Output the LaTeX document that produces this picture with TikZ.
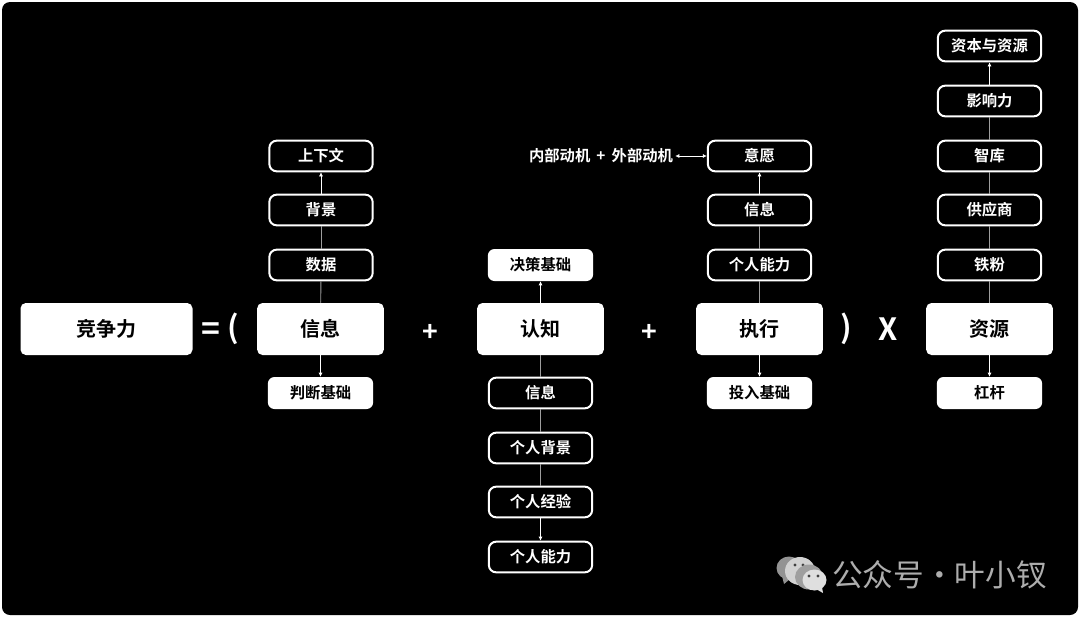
\documentclass[tikz,border=0pt]{standalone}
\usepackage{fontspec}
\setmainfont[BoldFont={Noto Sans CJK SC Bold}]{Noto Sans CJK SC}
\usetikzlibrary{arrows.meta}
\definecolor{linegray}{gray}{0.62}
\definecolor{markgray}{gray}{0.68}
\tikzset{
  core/.style    = {rectangle, rounded corners=4pt, fill=white, text=black,
                    minimum width=95pt, minimum height=39pt, inner sep=0pt, font=\bfseries\fontsize{15}{15}\selectfont},
  result/.style  = {rectangle, rounded corners=5pt, fill=white, text=black,
                    minimum width=79pt, minimum height=24pt, inner sep=0pt, font=\bfseries\fontsize{11.5}{12}\selectfont},
  factor/.style  = {rectangle, rounded corners=5.5pt, draw=white, line width=1.5pt, fill=black, text=white,
                    minimum width=77.5pt, minimum height=23pt, inner sep=0pt, font=\bfseries\fontsize{11.5}{12}\selectfont},
  sign/.style    = {text=white, inner sep=0pt, font=\bfseries\fontsize{20}{20}\selectfont},
  flow/.style    = {-{Latex[length=3pt,width=3pt]}, draw=white, line width=0.5pt},
  both/.style    = {{Latex[length=3pt,width=3pt]}-{Latex[length=3pt,width=3pt]}, draw=white, line width=0.5pt},
  link/.style    = {draw=linegray, line width=0.7pt},
}

\begin{document}
\begin{tikzpicture}[x=0.75pt, y=-0.75pt]
      \useasboundingbox (0,0) rectangle (1080,618);
      \fill[white] (0,0) rectangle (1080,618);
      \fill[black, rounded corners=6pt] (2,2) rectangle (1078,615);
      \node[core, minimum width=129pt] (total) at (106.5, 329) {竞争力};
      \node[sign, font=\bfseries\fontsize{24}{24}\selectfont] (eq) at (211, 332) {=};
      \node[sign, font=\bfseries\fontsize{23}{23}\selectfont] (open) at (233, 329) {(};
      \node[sign]   (plusa) at (430, 332.5) {+};
      \node[sign]   (plusb) at (649.5, 332.5) {+};
      \node[sign, font=\bfseries\fontsize{23}{23}\selectfont] (close) at (846, 329) {)};
      \node[sign, font=\bfseries\fontsize{23}{23}\selectfont] (times) at (888, 329) {X};

      \node[core]   (info) at (320.5, 329) {信息};
      \node[factor] (i1)   at (321, 265) {数据};
      \node[factor] (i2)   at (321, 210) {背景};
      \node[factor] (i3)   at (321, 156) {上下文};
      \node[result] (i4)   at (320.5, 393) {判断基础};

      \node[core]   (cog)  at (540.5, 329) {认知};
      \node[result] (c0)   at (540.5, 265) {决策基础};
      \node[factor] (c1)   at (540.5, 393) {信息};
      \node[factor] (c2)   at (540.5, 448) {个人背景};
      \node[factor] (c3)   at (540.5, 502) {个人经验};
      \node[factor] (c4)   at (540.5, 557) {个人能力};

      \node[core]   (exec) at (759.5, 329) {执行};
      \node[factor] (e1)   at (759.5, 265) {个人能力};
      \node[factor] (e2)   at (759.5, 210) {信息};
      \node[factor] (e3)   at (759.5, 156) {意愿};
      \node[result] (e4)   at (759.5, 393) {投入基础};
      \node[text=white, inner sep=1.5pt, font=\bfseries\fontsize{11.5}{12}\selectfont] (motive) at (601, 156) {内部动机\hspace{2pt} + \hspace{2pt}外部动机};

      \node[core]   (res)  at (989.5, 329) {资源};
      \node[factor] (r1)   at (989.5, 265) {铁粉};
      \node[factor] (r2)   at (989.5, 210) {供应商};
      \node[factor] (r3)   at (989.5, 156) {智库};
      \node[factor] (r4)   at (989.5, 101) {影响力};
      \node[factor] (r5)   at (989.5, 46)  {资本与资源};
      \node[result] (r6)   at (989.5, 393) {杠杆};

      \draw[link] (info) -- (i1);
      \draw[link] (i1) -- (i2);
      \draw[flow] (i2) -- (i3);
      \draw[flow] (info) -- (i4);

      \draw[flow] (cog) -- (c0);
      \draw[link] (c1) -- (cog);
      \draw[link] (c2) -- (c1);
      \draw[link] (c3) -- (c2);
      \draw[flow] (c3) -- (c4);

      \draw[link] (exec) -- (e1);
      \draw[link] (e1) -- (e2);
      \draw[flow] (e2) -- (e3);
      \draw[flow] (exec) -- (e4);
      \draw[both] (motive) -- (e3);

      \draw[link] (res) -- (r1);
      \draw[link] (r1) -- (r2);
      \draw[link] (r2) -- (r3);
      \draw[link] (r3) -- (r4);
      \draw[flow] (r4) -- (r5);
      \draw[flow] (res) -- (r6);

      % watermark
      \fill[gray!85] (789, 568) ellipse (12.5 and 11.5);
      \fill[gray!85] (784, 584) -- (782, 576) -- (790, 579) -- cycle;
      \fill[gray!35] (800, 571) ellipse (15 and 14);
      \fill[black!75] (795, 565) circle (1.6) (803, 565) circle (1.6);
      \fill[gray!75] (809, 577) ellipse (14 and 12.5);
      \fill[gray!25] (814.5, 580) ellipse (12 and 10.5);
      \fill[gray!25] (822, 587) -- (823, 593) -- (816, 589) -- cycle;
      \fill[black!75] (809, 576) circle (1.6) (818, 576) circle (1.6);
      \node[text=markgray, inner sep=0pt, anchor=west, font=\fontsize{23}{23}\selectfont] (mark) at (832, 575) {公众号\makebox[23pt]{·}叶小钗};
    \end{tikzpicture}
\end{document}
